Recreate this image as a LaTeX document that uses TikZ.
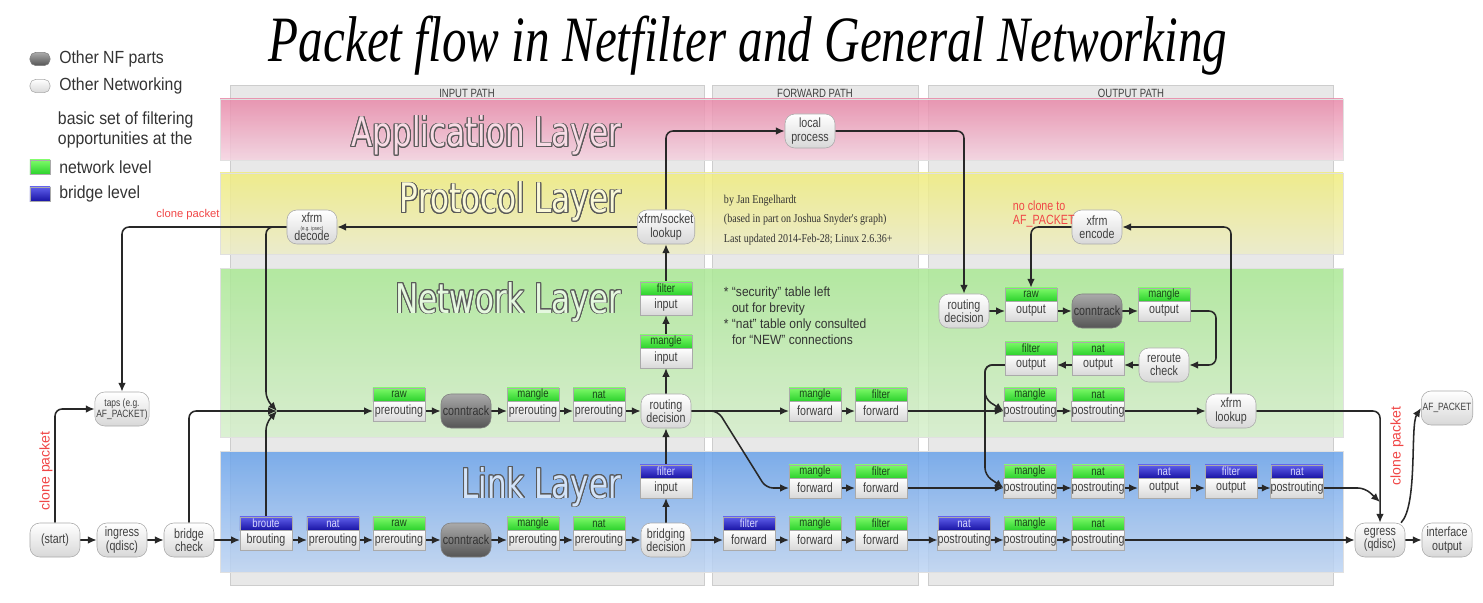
\documentclass[tikz,border=0pt]{standalone}
\usepackage{fontspec}
\setmainfont{Liberation Sans}
\newfontfamily\nodefont[FakeStretch=0.8]{Liberation Sans}
\newfontfamily\legfont[FakeStretch=0.9]{Liberation Sans}
\newfontfamily\layerfont[FakeStretch=0.76]{DejaVu Sans}
\newfontfamily\titlefont[FakeStretch=0.76]{Liberation Serif}
\newfontfamily\notefont[FakeStretch=0.84]{Liberation Serif}
\usepackage{contour}
\contourlength{0.7pt}
\usetikzlibrary{arrows.meta, positioning, calc}
\pgfdeclarelayer{bands}
\pgfdeclarelayer{wires}
\pgfsetlayers{bands,wires,main}

\definecolor{nfGreenA}{RGB}{125,250,105}
\definecolor{nfGreenB}{RGB}{45,210,45}
\definecolor{nfBlueA}{RGB}{95,95,235}
\definecolor{nfBlueB}{RGB}{25,20,165}
\definecolor{hdrGreenTxt}{RGB}{25,70,25}
\definecolor{hdrBlueTxt}{RGB}{215,215,255}
\definecolor{boxEdge}{RGB}{170,170,170}
\definecolor{boxLow}{RGB}{216,216,216}
\definecolor{ctHigh}{RGB}{170,170,170}
\definecolor{ctLow}{RGB}{85,85,85}
\definecolor{wireGray}{RGB}{40,40,40}
\definecolor{cloneRed}{RGB}{240,70,70}
\definecolor{colGray}{RGB}{232,232,232}
\definecolor{colEdge}{RGB}{205,205,205}
\definecolor{appTop}{RGB}{232,136,168}
\definecolor{appBot}{RGB}{244,210,224}
\definecolor{protoTop}{RGB}{240,236,125}
\definecolor{protoBot}{RGB}{236,236,200}
\definecolor{netTop}{RGB}{170,232,148}
\definecolor{netBot}{RGB}{214,238,204}
\definecolor{linkTop}{RGB}{105,162,234}
\definecolor{linkBot}{RGB}{190,212,242}
\definecolor{layerEdge}{RGB}{90,90,90}

\begin{document}
\begin{tikzpicture}[
    x=0.025cm, y=-0.025cm,
    font=\nodefont\fontsize{9.5}{9.5}\selectfont,
    % table of a hook, with its chain as header
    hook/.style={
        draw=boxEdge, top color=white, bottom color=boxLow, text=black!75,
        minimum width=1.3cm, minimum height=0.5cm,
        inner xsep=0pt, inner ysep=1pt, outer sep=0pt
    },
    hdr/.style={
        draw=boxEdge, minimum width=1.3cm, minimum height=0.33cm,
        inner sep=0pt, outer sep=0pt,
        font=\nodefont\fontsize{8.5}{8.5}\selectfont
    },
    hdrg/.style={hdr, top color=nfGreenA, bottom color=nfGreenB, text=hdrGreenTxt},
    hdrb/.style={hdr, top color=nfBlueA, bottom color=nfBlueB, text=hdrBlueTxt},
    hookg/.style={hook, label={[hdrg]90:#1}},
    hookb/.style={hook, label={[hdrb]90:#1}},
    % other networking
    pill/.style={
        draw=boxEdge, rounded corners=7pt, top color=white, bottom color=boxLow,
        text=black!75, minimum width=1.25cm, minimum height=0.85cm,
        inner sep=1pt, align=center
    },
    % other NF parts
    nfpart/.style={pill, draw=gray, top color=ctHigh, bottom color=ctLow, text=black!80},
    arrow/.style={
        -{Latex[length=2.2mm, width=1.9mm]},
        line width=1.1pt, wireGray, rounded corners=5pt
    },
    clone/.style={text=cloneRed, font=\rmfamily\fontsize{8}{9}\selectfont},
    band/.style={draw=black!12, fill opacity=0.85},
    layername/.style={anchor=base east, font=\layerfont\fontsize{29}{30}\selectfont},
    pathcol/.style={fill=colGray, draw=colEdge},
    pathname/.style={font=\nodefont\fontsize{8.5}{9}\selectfont, text=black!75},
    legend/.style={anchor=west, align=left, text=black!80, font=\legfont\fontsize{12.5}{14.2}\selectfont}
]
    \useasboundingbox (0,0) rectangle (1483,603);

    % --- title and legend ---
    \node[anchor=base, font=\titlefont\itshape\fontsize{46}{50}\selectfont] (title) at (748,62)
        {Packet flow in Netfilter and General Networking};

    \node[nfpart, minimum width=0.5cm, minimum height=0.33cm, rounded corners=4pt, inner sep=0pt] (lg_nf) at (40,59) {};
    \node[legend, right=0.1cm of lg_nf] (lg_nf_t) {Other NF parts};
    \node[pill, minimum width=0.5cm, minimum height=0.33cm, rounded corners=4pt, inner sep=0pt] (lg_other) at (40,86) {};
    \node[legend, right=0.1cm of lg_other] (lg_other_t) {Other Networking};
    \node[legend] (lg_basic) at (53,130) {basic set of filtering\\opportunities at the};
    \node[draw=boxEdge, top color=nfGreenA, bottom color=nfGreenB, minimum width=0.5cm, minimum height=0.35cm, inner sep=0pt] (lg_net) at (40,167) {};
    \node[legend, right=0.1cm of lg_net] (lg_net_t) {network level};
    \node[draw=boxEdge, top color=nfBlueA, bottom color=nfBlueB, minimum width=0.5cm, minimum height=0.35cm, inner sep=0pt] (lg_br) at (40,194) {};
    \node[legend, right=0.1cm of lg_br] (lg_br_t) {bridge level};

    % --- paths and layers ---
    \begin{pgfonlayer}{bands}
        \path[pathcol] (230,85) rectangle (704,585);
        \path[pathcol] (712,85) rectangle (918,585);
        \path[pathcol] (928,85) rectangle (1333,585);
        \node[pathname] (p_in) at (467,93) {INPUT PATH};
        \node[pathname] (p_fwd) at (815,93) {FORWARD PATH};
        \node[pathname] (p_out) at (1131,93) {OUTPUT PATH};

        \path[band, top color=appTop, bottom color=appBot] (220,99) rectangle (1343,160);
        \path[band, top color=protoTop, bottom color=protoBot] (220,173) rectangle (1343,254);
        \path[band, top color=netTop, bottom color=netBot] (220,268) rectangle (1343,437);
        \path[band, top color=linkTop, bottom color=linkBot] (220,451) rectangle (1343,572);

        \node[layername] (t_app) at (626,147) {\color{appTop!30!white}\contour{layerEdge}{Application Layer}};
        \node[layername] (t_proto) at (626,213) {\color{protoTop!30!white}\contour{layerEdge}{Protocol Layer}};
        \node[layername] (t_net) at (626,313) {\color{netTop!30!white}\contour{layerEdge}{Network Layer}};
        \node[layername] (t_link) at (626,498) {\color{linkTop!30!white}\contour{layerEdge}{Link Layer}};
    \end{pgfonlayer}

    % --- link layer ---
    \node[pill] (start) at (55,540) {(start)};
    \node[pill] (ingress) at (122,540) {ingress\\(qdisc)};
    \node[pill] (bridge) at (189,540) {bridge\\check};
    \node[hookb=broute] (l_brout) at (266,540) {brouting};
    \node[hookb=nat] (l_natpre) at (333,540) {prerouting};
    \node[hookg=raw] (l_rawpre) at (399,540) {prerouting};
    \node[nfpart] (l_ct) at (466,540) {conntrack};
    \node[hookg=mangle] (l_manpre) at (533,540) {prerouting};
    \node[hookg=nat] (l_natpre2) at (599,540) {prerouting};
    \node[pill] (bridging) at (666,540) {bridging\\decision};
    \node[hookb=filter] (l_filfwd) at (749,540) {forward};
    \node[hookg=mangle] (l_manfwd) at (815,540) {forward};
    \node[hookg=filter] (l_filfwd2) at (881,540) {forward};
    \node[hookb=nat] (l_natpost) at (964,540) {postrouting};
    \node[hookg=mangle] (l_manpost) at (1030,540) {postrouting};
    \node[hookg=nat] (l_natpost2) at (1098,540) {postrouting};
    \node[pill] (egress) at (1380,540) {egress\\(qdisc)};
    \node[pill] (iface) at (1447,540) {interface\\output};

    \node[hookb=filter] (l_filin) at (666,488) {input};
    \node[hookg=mangle] (l_manfwdU) at (815,488) {forward};
    \node[hookg=filter] (l_filfwdU) at (881,488) {forward};
    \node[hookg=mangle] (l_manpostU) at (1030,488) {postrouting};
    \node[hookg=nat] (l_natpostU) at (1098,488) {postrouting};
    \node[hookb=nat] (l_natout) at (1164,488) {output};
    \node[hookb=filter] (l_filout) at (1231,488) {output};
    \node[hookb=nat] (l_natpostB) at (1297,488) {postrouting};

    % --- network layer ---
    \node[pill, font=\nodefont\fontsize{7.5}{8}\selectfont] (taps) at (122,409) {taps (e.g.\\AF\_PACKET)};
    \node[hookg=raw] (n_raw) at (399,411) {prerouting};
    \node[nfpart] (n_ct) at (466,411) {conntrack};
    \node[hookg=mangle] (n_man) at (533,411) {prerouting};
    \node[hookg=nat] (n_nat) at (599,411) {prerouting};
    \node[pill] (n_route) at (666,411) {routing\\decision};
    \node[hookg=mangle] (n_manin) at (666,358) {input};
    \node[hookg=filter] (n_filin) at (666,305) {input};
    \node[hookg=mangle] (n_manfwd) at (815,411) {forward};
    \node[hookg=filter] (n_filfwd) at (881,411) {forward};
    \node[hookg=mangle] (n_manpost) at (1030,411) {postrouting};
    \node[hookg=nat] (n_natpost) at (1098,411) {postrouting};
    \node[pill] (xlookup) at (1231,411) {xfrm\\lookup};
    \node[pill, font=\nodefont\fontsize{7.5}{8}\selectfont] (af) at (1447,408) {AF\_PACKET};

    \node[pill] (o_route) at (964,311) {routing\\decision};
    \node[hook, label={[hdrg, name=o_raw_h]90:raw}] (o_raw) at (1031,311) {output};
    \node[nfpart] (o_ct) at (1097,311) {conntrack};
    \node[hookg=mangle] (o_man) at (1164,311) {output};
    \node[hookg=filter] (o_fil) at (1031,365) {output};
    \node[hookg=nat] (o_nat) at (1098,365) {output};
    \node[pill] (reroute) at (1164,365) {reroute\\check};

    % --- protocol and application layer ---
    \node[pill] (decode) at (312,227) {xfrm\\[-4pt]{\fontsize{4}{4}\selectfont (e.g. ipsec)}\\[-2pt]decode};
    \node[pill] (lookup) at (666,227) {xfrm/socket\\lookup};
    \node[pill] (encode) at (1097,227) {xfrm\\encode};
    \node[pill] (local) at (810,131) {local\\process};

    % --- notes ---
    \node[anchor=north west, align=left, text=black!80, font=\notefont\fontsize{8.5}{13.8}\selectfont] (credits) at (719,190)
        {by Jan Engelhardt\\(based in part on Joshua Snyder's graph)\\Last updated 2014-Feb-28; Linux 2.6.36+};
    \node[anchor=north west, align=left, text=black!80, font=\legfont\fontsize{9.5}{11.3}\selectfont] (remarks) at (719,282)
        {* “security” table left\\\phantom{* }out for brevity\\* “nat” table only consulted\\\phantom{* }for “NEW” connections};
    \node[clone, anchor=north west, align=left, font=\nodefont\fontsize{9.5}{9.5}\selectfont] (noclone) at (1008,196) {no clone to\\AF\_PACKET};
    \node[clone] (clone_top) at (188,215) {clone packet};
    \node[clone, rotate=90, font=\rmfamily\fontsize{10}{10}\selectfont] (clone_left) at (46,471) {clone packet};
    \node[clone, rotate=90, font=\rmfamily\fontsize{10}{10}\selectfont] (clone_right) at (1397,446) {clone packet};

    \coordinate (M) at (277,411);
    \coordinate (Mup) at (266,399);
    \coordinate (Mdn) at (266,423);
    \coordinate (J) at (1380,502);

    % --- connections ---
    \begin{pgfonlayer}{wires}
        % link layer, bridged path
        \draw[arrow] (start) -- (ingress);
        \draw[arrow] (ingress) -- (bridge);
        \draw[arrow] (bridge) -- (l_brout);
        \draw[arrow] (l_brout) -- (l_natpre);
        \draw[arrow] (l_natpre) -- (l_rawpre);
        \draw[arrow] (l_rawpre) -- (l_ct);
        \draw[arrow] (l_ct) -- (l_manpre);
        \draw[arrow] (l_manpre) -- (l_natpre2);
        \draw[arrow] (l_natpre2) -- (bridging);
        \draw[arrow] (bridging) -- (l_filfwd);
        \draw[arrow] (l_filfwd) -- (l_manfwd);
        \draw[arrow] (l_manfwd) -- (l_filfwd2);
        \draw[arrow] (l_filfwd2) -- (l_natpost);
        \draw[arrow] (l_natpost) -- (l_manpost);
        \draw[arrow] (l_manpost) -- (l_natpost2);
        \draw[arrow] (l_natpost2) -- (egress);
        \draw[arrow] (egress) -- (iface);
        \draw[arrow] (bridging) -- (l_filin);
        \draw[arrow] (l_filin) -- (n_route);

        % link layer, routed path
        \draw[arrow] (l_manfwdU) -- (l_filfwdU);
        \draw[arrow] (l_filfwdU) -- (l_manpostU);
        \draw[arrow] (l_manpostU) -- (l_natpostU);
        \draw[arrow] (l_natpostU) -- (l_natout);
        \draw[arrow] (l_natout) -- (l_filout);
        \draw[arrow] (l_filout) -- (l_natpostB);
        \draw[arrow] (l_natpostB) -- ++(68,0) -- (J);

        % clones and merge into prerouting
        \draw[arrow] (start) |- (taps);
        \draw[arrow] (bridge) |- (M);
        \draw[arrow] (l_brout) -- (Mdn) -- (M);
        \draw[arrow] (decode) -| (Mup) -- (M);
        \draw[arrow] (decode) -| (taps);
        \draw[arrow] (lookup) -- (decode);

        % network layer, input and forward
        \draw[arrow] (M) -- (n_raw);
        \draw[arrow] (n_raw) -- (n_ct);
        \draw[arrow] (n_ct) -- (n_man);
        \draw[arrow] (n_man) -- (n_nat);
        \draw[arrow] (n_nat) -- (n_route);
        \draw[arrow] (n_route) -- (n_manin);
        \draw[arrow] (n_manin) -- (n_filin);
        \draw[arrow] (n_filin) -- (lookup);
        \draw[arrow] (lookup) |- (local);
        \draw[arrow] (n_route) -- (n_manfwd);
        \draw[arrow] (n_route) -- ++(52,0) -- ++(48,77) -- (l_manfwdU);
        \draw[arrow] (n_manfwd) -- (n_filfwd);
        \draw[arrow] (n_filfwd) -- (n_manpost);
        \draw[arrow] (n_manpost) -- (n_natpost);
        \draw[arrow] (n_natpost) -- (xlookup);

        % output path
        \draw[arrow] (local) -| (o_route);
        \draw[arrow] (o_route) -- (o_raw);
        \draw[arrow] (o_raw) -- (o_ct);
        \draw[arrow] (o_ct) -- (o_man);
        \draw[arrow] (o_man) -- ++(52,0) |- (reroute);
        \draw[arrow] (reroute) -- (o_nat);
        \draw[arrow] (o_nat) -- (o_fil);
        \draw[arrow] (o_fil) -- ++(-46,0) -- ++(0,34) -- (n_manpost.west);
        \draw[arrow] (o_fil) -- ++(-46,0) -- ++(0,110) -- (l_manpostU.west);
        \draw[arrow] (xlookup) |- (encode);
        \draw[arrow] (encode) -| (o_raw_h);
        \draw[arrow] (xlookup) -| (egress);
        \draw[arrow] ([xshift=-3pt]egress.north east) .. controls (1418,505) and (1410,425) .. (af.west);
    \end{pgfonlayer}
\end{tikzpicture}
\end{document}
